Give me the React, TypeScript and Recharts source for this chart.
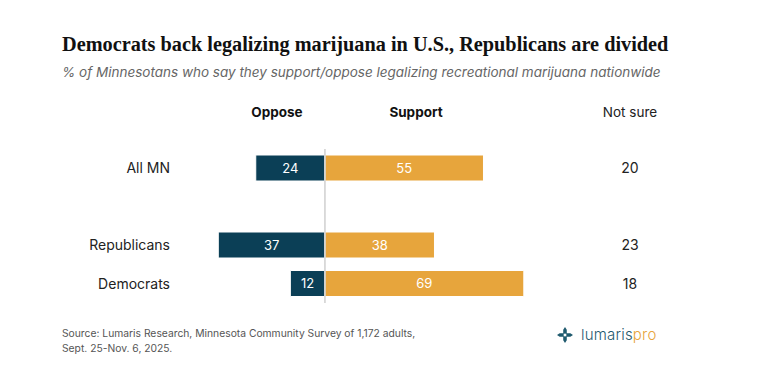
import React from 'react';
import { BarChart, Bar, XAxis, YAxis, ReferenceLine, LabelList } from 'recharts';

const groups = ['All MN', 'gap', 'Republicans', 'Democrats'];
const oppose = [24, null, 37, 12];
const support = [55, null, 38, 69];
const notSure = [20, null, 23, 18];

const data = groups.map((g, i) => ({
  name: g,
  oppose: oppose[i] == null ? null : -(oppose[i] as number),
  support: support[i],
  notSure: notSure[i],
}));

const SANS = 'Inter, "DejaVu Sans", sans-serif';
const NAVY = '#0b3f56';
const GOLD = '#e7a53c';

const CategoryTick = (props: any) => {
  const { y, payload, index } = props;
  if (payload.value === 'gap') return null;
  return (
    <g>
      <text x={170} y={y} dy={5} textAnchor="end" fontFamily={SANS} fontSize={14} fill="#222">
        {payload.value}
      </text>
      <text x={630} y={y} dy={5} textAnchor="middle" fontFamily={SANS} fontSize={14} fill="#222">
        {notSure[index]}
      </text>
    </g>
  );
};

export default function App() {
  return (
    <div style={{ position: 'absolute', left: 0, top: 0, width: 768, height: 391, background: '#fff', fontFamily: SANS }}>
      <div style={{ position: 'absolute', left: 62, top: 33, fontFamily: '"Liberation Serif", serif', fontWeight: 700, fontSize: 20.3, color: '#111', whiteSpace: 'nowrap' }}>
        Democrats back legalizing marijuana in U.S., Republicans are divided
      </div>
      <div style={{ position: 'absolute', left: 62, top: 64, fontStyle: 'italic', fontSize: 13.5, color: '#666', whiteSpace: 'nowrap' }}>
        % of Minnesotans who say they support/oppose legalizing recreational marijuana nationwide
      </div>
      <div style={{ position: 'absolute', left: 277, top: 104, transform: 'translateX(-50%)', fontWeight: 700, fontSize: 13.5, color: '#111' }}>Oppose</div>
      <div style={{ position: 'absolute', left: 416, top: 104, transform: 'translateX(-50%)', fontWeight: 700, fontSize: 13.5, color: '#111' }}>Support</div>
      <div style={{ position: 'absolute', left: 630, top: 104, transform: 'translateX(-50%)', fontSize: 13.5, color: '#222', whiteSpace: 'nowrap' }}>Not sure</div>
      <BarChart
        width={768}
        height={391}
        data={data}
        layout="vertical"
        stackOffset="sign"
        margin={{ top: 149, right: 126, bottom: 88, left: 52 }}
        style={{ position: 'absolute', left: 0, top: 0 }}
      >
        <XAxis type="number" domain={[-60, 110]} hide />
        <YAxis type="category" dataKey="name" width={100} axisLine={false} tickLine={false} tick={<CategoryTick />} />
        <ReferenceLine x={0} stroke="#cfcfcf" strokeWidth={1.5} />
        <Bar dataKey="oppose" stackId="a" fill={NAVY} stroke="#fff" strokeWidth={1} barSize={26} isAnimationActive={false}>
          <LabelList dataKey="oppose" position="center" fill="#fff" fontFamily={SANS} fontSize={13} formatter={(v: any) => (v == null ? '' : Math.abs(v))} />
        </Bar>
        <Bar dataKey="support" stackId="a" fill={GOLD} stroke="#fff" strokeWidth={1} barSize={26} isAnimationActive={false}>
          <LabelList dataKey="support" position="center" fill="#fff" fontFamily={SANS} fontSize={13} />
        </Bar>
      </BarChart>
      <div style={{ position: 'absolute', left: 62, top: 326, fontSize: 10.3, lineHeight: '15px', color: '#555' }}>
        Source: Lumaris Research, Minnesota Community Survey of 1,172 adults,
        <br />
        Sept. 25-Nov. 6, 2025.
      </div>
      <div style={{ position: 'absolute', left: 557, top: 325, display: 'flex', alignItems: 'center' }}>
        <svg width={16} height={16} viewBox="0 0 18 18">
          <path d="M9 0 L11 3 L11 7 L15 7 L18 9 L15 11 L11 11 L11 15 L9 18 L7 15 L7 11 L3 11 L0 9 L3 7 L7 7 L7 3 Z" fill="#1f5a6e" />
          <rect x={7.5} y={7.5} width={3} height={3} fill="#fff" />
        </svg>
        <span style={{ marginLeft: 8, fontSize: 15, fontWeight: 300, letterSpacing: 0.2, color: '#1f5a6e' }}>
          lumaris<span style={{ color: GOLD }}>pro</span>
        </span>
      </div>
    </div>
  );
}
